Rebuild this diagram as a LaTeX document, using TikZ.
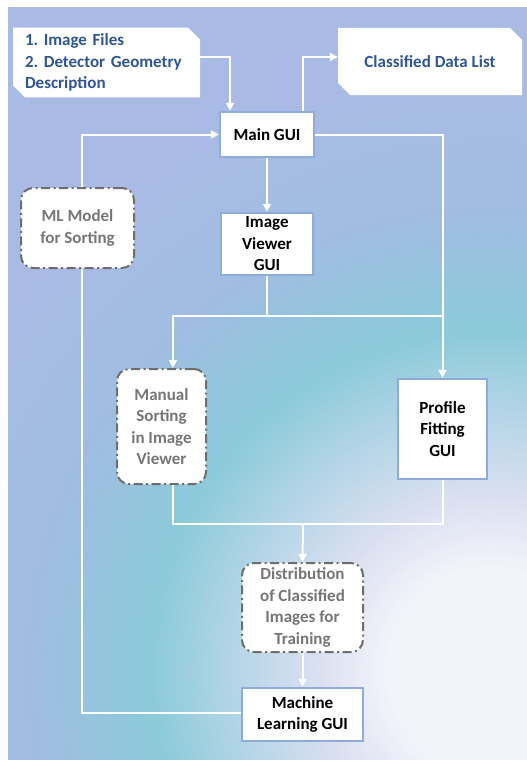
\documentclass[tikz,border=0pt]{standalone}
\usepackage{fontspec}
\setmainfont{Carlito}
\usetikzlibrary{arrows.meta,shapes.misc,calc}
\definecolor{cW}{HTML}{F3F4FA}
\definecolor{cL}{HTML}{DCE0F1}
\definecolor{cLB}{HTML}{B3D5E6}
\definecolor{cT}{HTML}{8BCAD9}
\definecolor{cB}{HTML}{A0BDE1}
\definecolor{cP}{HTML}{A9BBE4}
\definecolor{guiblue}{HTML}{8FAADC}
\definecolor{dgray}{HTML}{6E6E6E}
\definecolor{tgray}{HTML}{767676}
\definecolor{tblue}{HTML}{2F5597}
\pgfdeclareradialshading{bgshade}{\pgfpoint{0bp}{0bp}}{color(0bp)=(cW); color(3bp)=(cW); color(5bp)=(cL); color(7.6bp)=(cLB); color(10bp)=(cT); color(13.5bp)=(cB); color(17.6bp)=(cP); color(50bp)=(cP)}
\tikzset{
  gui/.style={draw=guiblue, line width=2.5pt, fill=white, text=black, align=center, inner sep=0pt},
  soft/.style={draw=dgray, line width=2pt, fill=white, text=tgray, align=center, rounded corners=12pt, dash pattern=on 9pt off 3.5pt on 2pt off 3.5pt, inner sep=0pt},
  io/.style={chamfered rectangle, chamfered rectangle corners={north east,south west}, chamfered rectangle xsep=6pt, chamfered rectangle ysep=6pt, fill=white, text=tblue, inner sep=0pt},
  conn/.style={white, line width=2pt},
  arr/.style={conn, -{Triangle[length=8pt,width=8pt]}}
}
\begin{document}
\frenchspacing
\begin{tikzpicture}[x=1pt,y=-1pt, font=\fontsize{17}{21.5}\selectfont\bfseries]
\useasboundingbox (0,0) rectangle (527,760);
\fill[white] (0,0) rectangle (527,760);
\begin{scope}
  \clip (8,8) rectangle (527,760);
  \shade[shading=bgshade] (490,670) circle (850pt);
\end{scope}

% nodes
\node[io, minimum width=187pt, minimum height=69pt, text width=163pt, align=left] (inp) at (106.5,62.5) {1.~Image~Files\\2.~Detector~Geometry\\Description};
\node[io, minimum width=184pt, minimum height=67pt] (cdl) at (430,61.5) {Classified Data List};
\node[gui, minimum width=94pt, minimum height=45pt] (main) at (267,134.5) {Main GUI};
\node[gui, minimum width=92pt, minimum height=62pt] (iv) at (267,244) {Image\\Viewer\\GUI};
\node[soft, minimum width=113pt, minimum height=80pt] (mlm) at (77.5,228) {ML Model\\for Sorting};
\node[soft, minimum width=89pt, minimum height=115pt] (ms) at (161.5,426.5) {Manual\\Sorting\\in Image\\Viewer};
\node[gui, minimum width=89pt, minimum height=100pt] (pf) at (442.5,429) {Profile\\Fitting\\GUI};
\node[soft, minimum width=121pt, minimum height=89pt] (dist) at (302.5,607.5) {Distribution\\of Classified\\Images for\\Training};
\node[gui, minimum width=121pt, minimum height=53pt] (mlg) at (302.5,714.5) {Machine\\Learning GUI};

% junction coordinates
\coordinate (c1) at (230,57);
\coordinate (c2) at (303,57);
\coordinate (j1) at (267,316);
\coordinate (jl) at (173,316);
\coordinate (jr) at (443,316);
\coordinate (kl) at (173,524);
\coordinate (kr) at (443,524);
\coordinate (km) at (303,524);
\coordinate (lt) at (82,134.5);
\coordinate (lb) at (82,713);

% connectors
\draw[arr] (inp.east |- c1) -- (c1) -- (c1 |- main.north);
\draw[arr] (c2 |- main.north) -- (c2) -- (cdl.west |- c2);
\draw[arr] (main.south) -- (iv.north);
\draw[arr] (main.east) -| (pf.north);
\draw[conn] (iv.south) -- (j1);
\draw[arr] (jr) -- (jl) -- (jl |- ms.north);
\draw[conn] (kl |- ms.south) -- (kl) -- (kr) -- (kr |- pf.south);
\draw[arr] (km) -- (dist.north);
\draw[arr] (dist.south) -- (mlg.north);
\draw[conn] (mlg.west |- lb) -- (lb) -- (lb |- mlm.south);
\draw[arr] (lt |- mlm.north) -- (lt) -- (main.west);
\end{tikzpicture}
\end{document}
